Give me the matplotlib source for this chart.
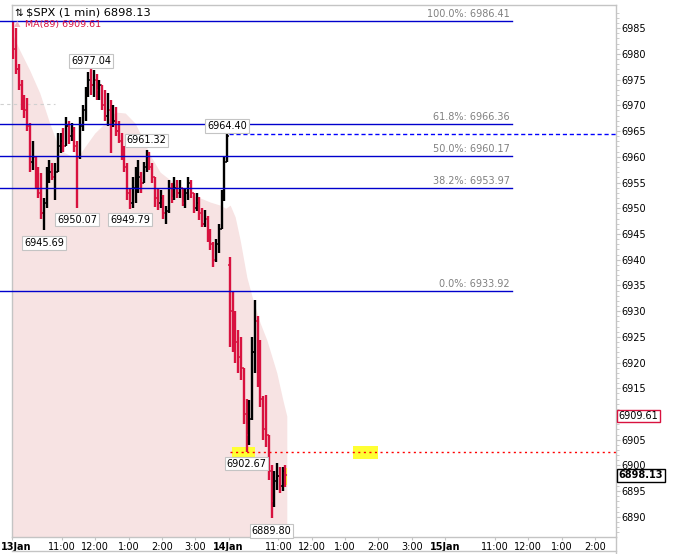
import matplotlib
matplotlib.use('Agg')
import matplotlib.pyplot as plt
import matplotlib.transforms as mtransforms
from matplotlib.lines import Line2D
from matplotlib.patches import Rectangle
import numpy as np

# 5-minute bars (13 Jan full session, 14 Jan morning)
day1_high = [6986.4, 6985.0, 6978.0, 6975.0, 6972.0, 6971.5, 6966.5, 6963.0, 6960.0, 6958.0,
             6956.8, 6952.0, 6958.0, 6959.4, 6958.8, 6958.8, 6964.6, 6964.6, 6965.5, 6967.7,
             6967.0, 6966.5, 6965.8, 6963.0, 6967.7, 6970.0, 6973.5, 6976.5, 6977.04, 6976.8,
             6976.0, 6975.0, 6974.0, 6973.0, 6972.4, 6971.0, 6970.0, 6969.6, 6967.0, 6964.6,
             6962.0, 6958.8, 6954.0, 6956.0, 6958.0, 6959.4, 6957.0, 6959.0, 6961.32, 6961.0,
             6958.8, 6956.0, 6954.0, 6953.5, 6952.5, 6950.5, 6955.5, 6955.0, 6956.0, 6955.5,
             6955.5, 6954.0, 6954.0, 6956.0, 6955.5, 6953.0, 6953.0, 6952.2, 6950.0, 6949.6,
             6948.5, 6946.0, 6943.5, 6944.0, 6947.0, 6953.5, 6960.0, 6964.40]
day1_low = [6979.0, 6976.0, 6973.0, 6969.0, 6967.5, 6965.0, 6957.0, 6957.5, 6954.0, 6952.0,
            6948.0, 6945.69, 6950.0, 6955.0, 6955.5, 6951.6, 6957.0, 6960.7, 6961.0, 6962.0,
            6962.5, 6963.0, 6961.0, 6950.07, 6959.5, 6965.0, 6967.0, 6971.6, 6972.0, 6971.6,
            6971.0, 6971.0, 6969.0, 6967.0, 6966.0, 6960.7, 6965.8, 6964.0, 6962.7, 6959.4,
            6957.0, 6951.6, 6949.79, 6950.0, 6951.0, 6953.0, 6953.0, 6955.0, 6957.0, 6957.4,
            6955.0, 6950.2, 6949.6, 6950.0, 6948.0, 6947.0, 6949.0, 6951.0, 6951.6, 6952.0,
            6952.0, 6950.5, 6950.0, 6951.6, 6952.0, 6949.0, 6949.5, 6947.7, 6946.3, 6946.3,
            6943.5, 6941.9, 6938.6, 6939.5, 6941.3, 6946.0, 6951.5, 6959.0]
day1_close = [6981, 6977, 6974, 6970, 6969, 6966, 6959, 6960, 6955, 6953,
              6949, 6951, 6956, 6957, 6956, 6957, 6962, 6963, 6962, 6966,
              6964, 6965, 6962, 6960, 6966, 6969, 6972, 6975, 6974, 6975,
              6973, 6974, 6970, 6968, 6969, 6966, 6967, 6965, 6963, 6960,
              6958, 6953, 6951, 6954, 6955, 6956, 6955, 6958, 6960, 6958,
              6956, 6952, 6951, 6952, 6949, 6949.5, 6954, 6952, 6954, 6953,
              6954, 6951, 6953, 6955, 6953, 6950, 6951, 6949, 6947, 6948,
              6944, 6943, 6940, 6943, 6946, 6952, 6959, 6964]
day1_first_open = 6985.5

day2_high = [6940.5, 6934.0, 6930.0, 6926.3, 6925.0, 6919.0, 6913.0, 6912.7, 6925.0, 6932.2,
             6929.0, 6924.4, 6913.5, 6913.7, 6906.0, 6900.0, 6899.0, 6900.5, 6899.7, 6899.7, 6900.0]
day2_low = [6923.0, 6922.0, 6920.0, 6918.0, 6916.6, 6908.0, 6902.67, 6904.0, 6908.8, 6918.0,
            6915.3, 6911.4, 6905.0, 6903.6, 6897.2, 6889.80, 6892.0, 6895.3, 6894.7, 6895.0, 6895.8]
day2_close = [6930, 6928, 6924, 6921, 6919, 6910, 6906, 6909, 6922, 6928,
              6919, 6913, 6907, 6906, 6899, 6893, 6897, 6898, 6896, 6899, 6898.13]
day2_first_open = 6939.0

# MA(89) read at points along the session-minute axis
ma_minute = [0, 14, 32, 50, 68, 86, 104, 119, 131, 149, 167, 186, 204, 222, 231, 249, 267,
             285, 303, 321, 339, 357, 375, 385, 393, 402, 411, 423, 434, 447, 459, 477, 488, 495]
ma_value = [6984.0, 6980.7, 6976.8, 6972.4, 6966.5, 6961.3, 6960.3, 6960.0, 6961.9, 6964.6,
            6966.5, 6968.7, 6968.5, 6966.5, 6964.5, 6960.3, 6957.0, 6955.5, 6953.9, 6952.6,
            6952.0, 6951.2, 6950.6, 6950.0, 6950.6, 6948.3, 6943.8, 6936.6, 6932.2, 6927.7,
            6924.4, 6918.0, 6912.7, 6909.61]

fib_pct = ['100.0%', '61.8%', '50.0%', '38.2%', '0.0%']
fib_level = [6986.41, 6966.36, 6960.17, 6953.97, 6933.92]

tick_pos = [0, 90, 150, 210, 270, 330, 390, 480, 540, 600, 660, 720, 780, 870, 930, 990, 1050]
tick_lab = ['13Jan', '11:00', '12:00', '1:00', '2:00', '3:00', '14Jan', '11:00', '12:00', '1:00',
            '2:00', '3:00', '15Jan', '11:00', '12:00', '1:00', '2:00']

DAY = 390  # session minutes per day
RED = '#d8123f'
GRAY = '#c4c4c4'
W, H = 690, 554

fig = plt.figure(figsize=(W / 100, H / 100), dpi=100)
ax = fig.add_axes([12 / W, 17 / H, 604 / W, 532 / H])
ax.set_xlim(0, 1088)
ax.set_ylim(6886.1, 6989.5)

# moving average area
ax.fill_between(ma_minute, ma_value, 6886.1, color='#f7e3e3', lw=0, zorder=1)

# bars
t1 = np.arange(len(day1_high)) * 5 + 2.5
t2 = DAY + np.arange(len(day2_high)) * 5 + 2.5
t = np.concatenate([t1, t2])
hi = np.array(day1_high + day2_high)
lo = np.array(day1_low + day2_low)
cl = np.array(day1_close + day2_close, dtype=float)
op = np.concatenate([[day1_first_open], day1_close[:-1], [day2_first_open], day2_close[:-1]])
cols = ['black' if c >= o else RED for o, c in zip(op, cl)]
ax.vlines(t, lo, hi, colors=cols, lw=1.7, zorder=4)
ax.hlines(op, t - 2.6, t, colors=cols, lw=1.1, zorder=4)
ax.hlines(cl, t, t + 2.6, colors=cols, lw=1.1, zorder=4)

# fibonacci levels
for pct, lvl in zip(fib_pct, fib_level):
    ax.plot([-21.6, 900.5], [lvl, lvl], color='#0000cc', lw=1, zorder=5, clip_on=False)
    ax.text(897, lvl + 0.35, f'{pct}: {lvl:.2f}', ha='right', va='bottom',
            fontsize=7, color='#808080', zorder=6)

# faint line at left
ax.plot([-21.6, 77], [6970.2, 6970.2], color='#d0d0d0', lw=0.8, ls=(0, (3, 3)),
        zorder=2, clip_on=False)

# yellow highlights
ax.add_patch(Rectangle((396, day2_low[6] - 1.5), 42, 2.4, fc='#ffff33', ec='none', zorder=3))
ax.add_patch(Rectangle((614, day2_low[6] - 1.4), 45, 2.5, fc='#ffff33', ec='none', zorder=3))
ax.add_patch(Rectangle((t2[-1] - 3, 6896.2), 6, 3.3, fc='#ffff33', ec='none', zorder=3))

# high / low tags
last1 = len(day1_high) - 1
tags = [
    (t1[28], day1_high[28], 6),
    (t1[11], day1_low[11], -9),
    (t1[23], day1_low[23], -8.5),
    (t1[42], day1_low[42], -7.5),
    (t1[48], day1_high[48], 7),
    (t1[last1], day1_high[last1], 6),
    (t2[6], day2_low[6], -8.5),
    (t2[15], day2_low[15], -9.5),
]
for x, y, dy in tags:
    ax.annotate(f'{y:.2f}', xy=(x, y), xytext=(0, dy), textcoords='offset points',
                ha='center', va='center', fontsize=7, zorder=7,
                bbox=dict(boxstyle='square,pad=0.18', fc='white', ec=GRAY, lw=0.8))

# reference lines
ax.plot([DAY, 1088], [day1_high[-1]] * 2, color='#0000ff', lw=1, ls=(0, (3, 2)), zorder=5)
ax.plot([DAY + 2, 1088], [day2_low[6]] * 2, color='#ff0000', lw=1, ls=(0, (1.5, 2.5)), zorder=5)

# axes styling
for s in ax.spines.values():
    s.set_color(GRAY)
    s.set_linewidth(1)
ax.yaxis.tick_right()
yt = np.arange(6890, 6986, 5)
ax.set_yticks(yt)
ax.set_yticklabels(['' if v == 6910 else str(v) for v in yt])  # hidden under the MA tag
ax.set_yticks(np.arange(6887, 6989, 1), minor=True)
ax.tick_params(axis='y', which='major', length=3, color=GRAY, labelsize=7, pad=1)
ax.tick_params(axis='y', which='minor', length=2, color=GRAY)
ax.set_xticks(tick_pos)
ax.set_xticklabels(tick_lab)
ax.tick_params(axis='x', length=2, color=GRAY, labelsize=7, pad=1.5)
for lab in ax.get_xticklabels():
    if 'Jan' in lab.get_text():
        lab.set_fontweight('bold')
first = ax.get_xticklabels()[0]
first.set_horizontalalignment('left')
first.set_transform(first.get_transform() + mtransforms.ScaledTranslation(-11 / 100, 0, fig.dpi_scale_trans))

# bottom band and right axis extension
fig.add_artist(Line2D([12 / W, 616 / W], [3 / H, 3 / H], color=GRAY, lw=1))
fig.add_artist(Line2D([616 / W, 616 / W], [0, 17 / H], color=GRAY, lw=1))

# right side price tags
ax.annotate(f'{ma_value[-1]:.2f}', xy=(1, ma_value[-1]), xycoords=('axes fraction', 'data'),
            xytext=(2, 0), textcoords='offset points', ha='left', va='center', fontsize=7,
            annotation_clip=False, zorder=8,
            bbox=dict(boxstyle='square,pad=0.15', fc='white', ec=RED, lw=1))
ax.annotate(f'{day2_close[-1]:.2f}', xy=(1, day2_close[-1]), xycoords=('axes fraction', 'data'),
            xytext=(2, 0), textcoords='offset points', ha='left', va='center', fontsize=7,
            fontweight='bold', annotation_clip=False, zorder=8,
            bbox=dict(boxstyle='square,pad=0.15', fc='white', ec='black', lw=1))

# legend text at top left
fig.text(14 / W, 1 - 12.5 / H, '\u21c5', fontsize=7.5, va='center', ha='left')
fig.text(26 / W, 1 - 12.5 / H, f'$SPX (1 min) {day2_close[-1]:.2f}', fontsize=8.2,
         va='center', ha='left')
fig.text(14 / W, 1 - 24 / H, '\u25b2', fontsize=6, color='#f0b8c4', va='center', ha='left')
fig.text(25 / W, 1 - 24 / H, f'MA(89) {ma_value[-1]:.2f}', fontsize=6.8, color=RED,
         va='center', ha='left')

fig.savefig('out.png', dpi=100)
